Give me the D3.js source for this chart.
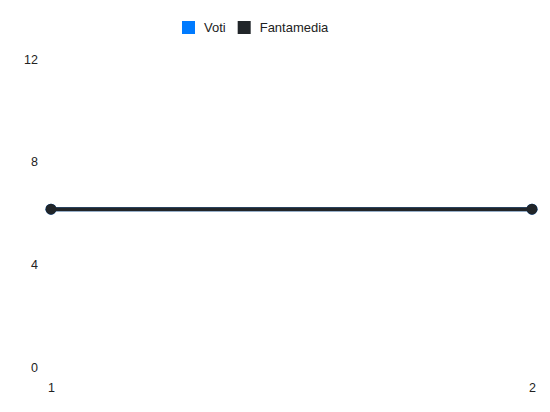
<!DOCTYPE html>
<meta charset="utf-8">
<script src="https://d3js.org/d3.v7.min.js"></script>
<style>
  body { margin: 0; background: #fff; }
  svg text { font-family: "Liberation Sans", Arial, sans-serif; font-size: 12px; fill: #222; }
</style>
<div id="my_dataviz"></div>
<script>
  // data
  const giornate = [1, 2]
  const voti = [6.15, 6.15]
  const fantamedia = [6.15, 6.15]
  const yTicks = [0, 4, 8, 12]
  const series = [
    {name: "Voti", values: voti, color: "#007bff"},
    {name: "Fantamedia", values: fantamedia, color: "#212529"}
  ]

  const W = 550, H = 412
  const margin = {top: 59, right: 18, bottom: 45, left: 51}

  const svg = d3.select("#my_dataviz")
    .append("svg")
      .attr("width", W)
      .attr("height", H)

  const x = d3.scalePoint()
    .domain(giornate)
    .range([margin.left, W - margin.right])

  const y = d3.scaleLinear()
    .domain([0, 12])
    .range([H - margin.bottom, margin.top])

  // y axis labels (no line, no ticks)
  const yAxis = svg.append("g")
    .attr("transform", `translate(${margin.left - 13},0)`)
    .call(d3.axisLeft(y).tickValues(yTicks).tickSize(0).tickPadding(0))
  yAxis.select(".domain").remove()
  yAxis.selectAll("text").style("fill", "#222").style("font-size", "12.5px")

  // x axis labels
  const xAxis = svg.append("g")
    .attr("transform", `translate(0,${H - margin.bottom + 13})`)
    .call(d3.axisBottom(x).tickSize(0).tickPadding(3))
  xAxis.select(".domain").remove()
  xAxis.selectAll("text").style("fill", "#222").style("font-size", "12.5px")

  // lines and points
  const line = d3.line()
    .x((d, i) => x(giornate[i]))
    .y(d => y(d))

  series.forEach(s => {
    svg.append("path")
      .datum(s.values)
      .attr("d", line)
      .attr("fill", "none")
      .attr("stroke", s.color)
      .attr("stroke-width", 4)
    svg.selectAll(null)
      .data(s.values)
      .join("circle")
        .attr("cx", (d, i) => x(giornate[i]))
        .attr("cy", d => y(d))
        .attr("r", 5.5)
        .attr("fill", s.color)
  })

  // legend
  const legend = svg.append("g")
  let lx = 182
  series.forEach(s => {
    legend.append("rect")
      .attr("x", lx).attr("y", 21)
      .attr("width", 13).attr("height", 13)
      .attr("fill", s.color)
    const t = legend.append("text")
      .attr("x", lx + 22).attr("y", 32)
      .style("font-size", "13px")
      .text(s.name)
    lx += 22 + t.node().getComputedTextLength() + 12
  })
</script>
